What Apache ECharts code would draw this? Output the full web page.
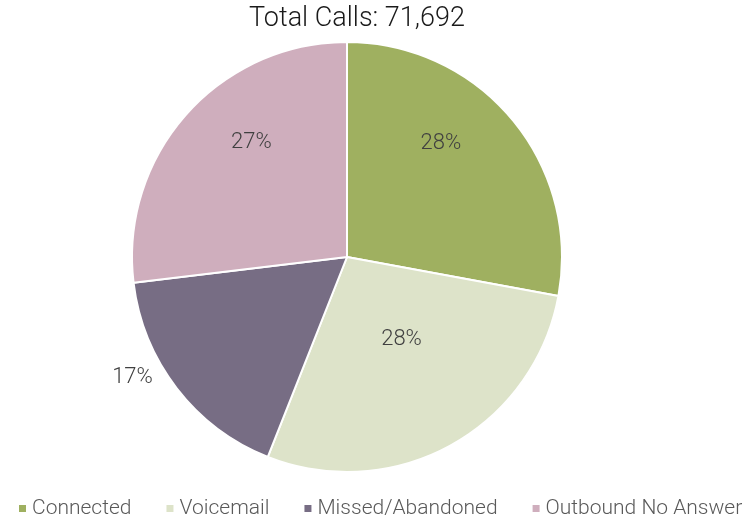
<!DOCTYPE html>
<html>
<head>
<meta charset="utf-8">
<style>
  html, body { margin: 0; padding: 0; background: #ffffff; }
  #chart { width: 744px; height: 518px; }
</style>
<script src="https://cdn.jsdelivr.net/npm/echarts@6/dist/echarts.min.js"></script>
</head>
<body>
<div id="chart"></div>
<script>
// Call outcomes
const categories = ['Connected', 'Voicemail', 'Missed/Abandoned', 'Outbound No Answer'];
const callCounts = [20000, 20150, 12250, 19292];
const totalCalls = 71692;

// Slice colours and label nudges (px) relative to the default inside position
const sliceColors = ['#9fb060', '#dde3c9', '#776d84', '#cfaebd'];
const labelNudge = [[9, -43], [1, -14], [-127, 53], [-13, -41]];

const FONT = 'Roboto, "Liberation Sans", sans-serif';

const chart = echarts.init(document.getElementById('chart'), null, { renderer: 'canvas' });

const pieData = categories.map((name, i) => ({
  name: name,
  value: callCounts[i],
  itemStyle: { color: sliceColors[i] }
}));

chart.setOption({
  animation: false,
  backgroundColor: '#ffffff',
  title: {
    text: 'Total Calls: ' + totalCalls.toLocaleString('en-US'),
    left: 249,
    top: 6,
    padding: 0,
    textStyle: { fontFamily: FONT, fontSize: 27, fontWeight: 300, color: '#1a1a1a' }
  },
  legend: {
    top: 498,
    left: 17,
    width: 900,
    padding: 0,
    itemWidth: 9,
    itemHeight: 9,
    itemGap: 33,
    icon: 'rect',
    textStyle: { fontFamily: FONT, fontSize: 21, fontWeight: 300, color: '#595959' },
    data: categories
  },
  series: [{
    type: 'pie',
    center: [347, 257],
    radius: [0, 215],
    startAngle: 90,
    clockwise: true,
    avoidLabelOverlap: false,
    itemStyle: { borderColor: '#ffffff', borderWidth: 2 },
    label: {
      show: true,
      position: 'inside',
      formatter: (p) => Math.round(p.percent) + '%',
      fontFamily: FONT,
      fontSize: 22,
      fontWeight: 300,
      color: '#404040'
    },
    labelLine: { show: false },
    emphasis: { disabled: true },
    labelLayout: (params) => ({
      dx: labelNudge[params.dataIndex][0],
      dy: labelNudge[params.dataIndex][1]
    }),
    data: pieData
  }]
});
</script>
</body>
</html>
